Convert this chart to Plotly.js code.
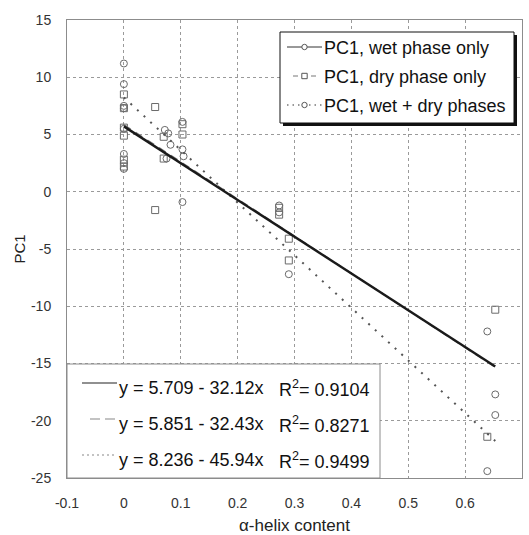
<!DOCTYPE html>
<html><head><meta charset="utf-8">
<script src="https://cdn.plot.ly/plotly-3.0.1.min.js"></script>
<style>html,body{margin:0;padding:0;background:#fff;} #chart{width:529px;height:535px;}</style>
</head><body><div id="chart"></div>
<script>
// ---- data ----
const wetX = [0, 0, 0, 0, 0, 0, 0, 0, 0.072, 0.078, 0.082, 0.075, 0.103, 0.103, 0.105, 0.103, 0.273, 0.273, 0.29, 0.639, 0.653, 0.653, 0.639];
const wetY = [11.2, 9.4, 7.5, 7.3, 5.5, 3.3, 2.5, 2.0, 5.4, 5.1, 4.1, 2.9, 6.1, 3.7, 3.1, -0.9, -1.2, -1.8, -7.2, -12.2, -17.7, -19.5, -24.4];
const dryX = [0, 0, 0, 0, 0, 0, 0.055, 0.055, 0.07, 0.07, 0.103, 0.103, 0.273, 0.273, 0.29, 0.29, 0.653, 0.639];
const dryY = [8.5, 7.3, 5.6, 4.9, 2.8, 2.2, 7.4, -1.6, 4.8, 2.9, 5.9, 5.0, -1.4, -2.0, -4.1, -6.0, -10.3, -21.4];

const seriesNames = ['PC1, wet phase only', 'PC1, dry phase only', 'PC1, wet + dry phases'];
const fitIntercepts = [5.709, 5.851, 8.236];
const fitSlopes = [-32.12, -32.43, -45.94];
const fitR2 = [0.9104, 0.8271, 0.9499];

const xTickVals = [-0.1, 0, 0.1, 0.2, 0.3, 0.4, 0.5, 0.6, 0.7];
const xTickText = ['-0.1', '0', '0.1', '0.2', '0.3', '0.4', '0.5', '0.6', '0.7'];
const yTickVals = [-25, -20, -15, -10, -5, 0, 5, 10, 15];
const yTickText = ['-25', '-20', '-15', '-10', '-5', '0', '5', '10', '15'];

const xTitle = '\u03B1-helix content';
const yTitle = 'PC1';

// ---- geometry helpers ----
const W = 529, H = 535;
const M = {l: 67, r: 7, t: 20, b: 57};
const PW = W - M.l - M.r, PH = H - M.t - M.b;
const px = x => (x - M.l) / PW;
const py = y => (H - M.b - y) / PH;
const FONT = 'Arial, "Liberation Sans", Helvetica, sans-serif';

// fit line extent: data x range
const allX = wetX.concat(dryX);
const fitX = [Math.min(...allX), Math.max(...allX)];
const fitY = i => fitX.map(x => fitIntercepts[i] + fitSlopes[i] * x);

const markerColor = '#6a6a6a';
const lineStyles = [
  {color: '#1a1a1a', width: 2.4, dash: 'solid'},
  {color: '#7a7a7a', width: 1.5, dash: '8px,6px'},
  {color: '#555555', width: 2, dash: '2px,7px'}
];

const traces = [
  {x: wetX, y: wetY, type: 'scatter', mode: 'markers', name: seriesNames[0],
   marker: {symbol: 'circle-open', size: 7, color: markerColor, line: {width: 1, color: markerColor}}},
  {x: dryX, y: dryY, type: 'scatter', mode: 'markers', name: seriesNames[1],
   marker: {symbol: 'square-open', size: 7, color: markerColor, line: {width: 1, color: markerColor}}},
  {x: fitX, y: fitY(1), type: 'scatter', mode: 'lines', name: 'fit dry', line: lineStyles[1]},
  {x: fitX, y: fitY(2), type: 'scatter', mode: 'lines', name: 'fit all', line: lineStyles[2]},
  {x: fitX, y: fitY(0), type: 'scatter', mode: 'lines', name: 'fit wet', line: lineStyles[0]}
];

const shapes = [];
const annotations = [];

// ---- legend 1 (top right, with shadow) ----
const L1 = {x0: 280, x1: 514, y0: 32, y1: 123};
shapes.push({type: 'rect', xref: 'paper', yref: 'paper', layer: 'above',
  x0: px(L1.x0 + 3), x1: px(L1.x1 + 3), y0: py(L1.y1 + 3), y1: py(L1.y0 + 3),
  fillcolor: '#111', line: {width: 0}});
shapes.push({type: 'rect', xref: 'paper', yref: 'paper', layer: 'above',
  x0: px(L1.x0), x1: px(L1.x1), y0: py(L1.y1), y1: py(L1.y0),
  fillcolor: '#fff', line: {width: 1, color: '#111'}});
const l1Rows = [48, 77, 106];
const l1Lines = [
  {x0: 287, x1: 322, color: '#333', dash: 'solid', width: 1},
  {x0: 293, x1: 319, color: '#777', dash: '5px,4px', width: 1},
  {x0: 287, x1: 322, color: '#777', dash: '1.5px,4px', width: 1.5}
];
const l1Sym = ['circle', 'square', 'circle'];
l1Rows.forEach((ry, i) => {
  const ly = ry - 1;
  shapes.push({type: 'line', xref: 'paper', yref: 'paper', layer: 'above',
    x0: px(l1Lines[i].x0), x1: px(l1Lines[i].x1), y0: py(ly), y1: py(ly),
    line: {color: l1Lines[i].color, width: l1Lines[i].width, dash: l1Lines[i].dash}});
  const r = 2.7;
  shapes.push({type: l1Sym[i] === 'circle' ? 'circle' : 'rect', xref: 'paper', yref: 'paper', layer: 'above',
    x0: px(304.5 - r), x1: px(304.5 + r), y0: py(ly + r), y1: py(ly - r),
    fillcolor: '#fff', line: {color: '#555', width: 1}});
  annotations.push({xref: 'paper', yref: 'paper', x: px(322), y: py(ry), xanchor: 'left', yanchor: 'middle',
    showarrow: false, text: seriesNames[i], font: {family: FONT, size: 18, color: '#111'}});
});

// ---- legend 2 (bottom left, equations) ----
const L2 = {x0: 67, x1: 380, y0: 364, y1: 478};
shapes.push({type: 'rect', xref: 'paper', yref: 'paper', layer: 'above',
  x0: px(L2.x0), x1: px(L2.x1), y0: py(L2.y1), y1: py(L2.y0),
  fillcolor: '#fff', line: {width: 1, color: '#8c8c8c'}});
const l2Rows = [388, 424, 460];
const l2Lines = [
  {x0: 82, x1: 117, color: '#222', dash: 'solid', width: 1.2},
  {x0: 90, x1: 116, color: '#888', dash: '10px,5px', width: 1.2},
  {x0: 82, x1: 117, color: '#888', dash: '2px,3px', width: 1.2}
];
l2Rows.forEach((ry, i) => {
  const ly = ry - 5;
  shapes.push({type: 'line', xref: 'paper', yref: 'paper', layer: 'above',
    x0: px(l2Lines[i].x0), x1: px(l2Lines[i].x1), y0: py(ly), y1: py(ly),
    line: {color: l2Lines[i].color, width: l2Lines[i].width, dash: l2Lines[i].dash}});
  const eq = 'y = ' + fitIntercepts[i].toFixed(3) + ' - ' + Math.abs(fitSlopes[i]).toFixed(2) + 'x';
  annotations.push({xref: 'paper', yref: 'paper', x: px(117), y: py(ry), xanchor: 'left', yanchor: 'middle',
    showarrow: false, text: eq, font: {family: FONT, size: 18, color: '#111'}});
  annotations.push({xref: 'paper', yref: 'paper', x: px(277), y: py(ry), xanchor: 'left', yanchor: 'middle',
    showarrow: false, text: 'R<sup>2</sup>= ' + fitR2[i].toFixed(4), font: {family: FONT, size: 18, color: '#111'}});
});

const axisCommon = {
  showline: true, mirror: true, linecolor: '#8c8c8c', linewidth: 1,
  showgrid: true, gridcolor: '#9a9a9a', griddash: 'dot', gridwidth: 1,
  zeroline: false, ticks: '', tickmode: 'array',
  tickfont: {family: FONT, size: 14, color: '#333'}
};

const layout = {
  width: W, height: H,
  margin: M,
  paper_bgcolor: '#fff', plot_bgcolor: '#fff',
  showlegend: false,
  xaxis: Object.assign({}, axisCommon, {
    range: [-0.1, 0.7], tickvals: xTickVals, ticktext: xTickText, ticklabelstandoff: 12,
    title: {text: xTitle, font: {family: FONT, size: 17, color: '#222'}, standoff: 12}
  }),
  yaxis: Object.assign({}, axisCommon, {
    range: [-25, 15], tickvals: yTickVals, ticktext: yTickText, ticklabelstandoff: 12,
    title: {text: yTitle, font: {family: FONT, size: 15, color: '#222'}, standoff: 1}
  }),
  shapes: shapes,
  annotations: annotations
};

Plotly.newPlot('chart', traces, layout, {staticPlot: true, displayModeBar: false});
</script>
</body></html>
